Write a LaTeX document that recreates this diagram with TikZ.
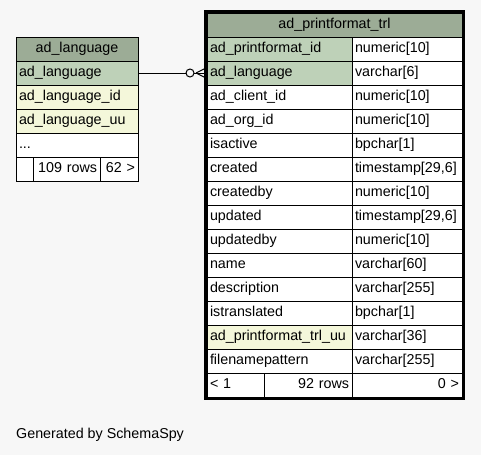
\documentclass[tikz,border=0pt]{standalone}
\usepackage{fontspec}
\setmainfont{Liberation Sans}
\usetikzlibrary{positioning, calc}
\definecolor{pagebg}{HTML}{F7F7F7}
\definecolor{hdrfill}{HTML}{9CAC96}
\definecolor{keyfill}{HTML}{BED1B8}
\definecolor{uufill}{HTML}{F4F7DA}
\tikzset{
  cell/.style={
    draw=black, line width=1pt, anchor=north west, outer sep=0pt,
    minimum height=24pt, inner xsep=3pt, inner ysep=0pt,
    text height=10.5pt, text depth=3.5pt, align=left,
    font=\fontsize{14.3}{16}\selectfont
  },
  tblhead/.style={cell, fill=hdrfill, align=center},
  lcol/.style={cell, text width=116pt},
  namecol/.style={cell, text width=139pt},
  typecol/.style={cell, text width=104pt, fill=white},
  foot/.style={cell, fill=white, text width=#1},
  rel/.style={draw=black, line width=1pt},
  optcircle/.style={circle, draw=black, line width=1pt, fill=pagebg,
                    minimum size=8pt, inner sep=0pt},
}

\begin{document}
\begin{tikzpicture}[x=1pt, y=-1pt]

  % ============ PAGE ============
  \fill[pagebg] (0,0) rectangle (481,455);
  \useasboundingbox (0,0) rectangle (481,455);

  % ============ TABLE ad_language ============
  \node[tblhead, text width=116pt] (lh) at (16,37) {ad\_language};
  \foreach \n/\f [count=\i] in {ad\_language/keyfill, ad\_language\_id/uufill,
                                ad\_language\_uu/uufill} {
    \node[lcol, fill=\f] (l\i) at (16,{37+24*\i}) {\n};
  }
  \node[lcol, fill=white] (l4) at (16,133) {...};
  % footer
  \node[foot=11pt] (lf1) at (16,157) {};
  \node[foot=61pt, align=right] (lf2) at (33,157) {109 rows};
  \node[foot=32pt, align=right] (lf3) at (100,157) {62 >};

  % ============ TABLE ad_printformat_trl ============
  \node[tblhead, text width=249pt] (rh) at (207,13) {ad\_printformat\_trl};
  \foreach \n/\t/\f [count=\i] in {
      ad\_printformat\_id/numeric[10]/keyfill,
      ad\_language/varchar[6]/keyfill,
      ad\_client\_id/numeric[10]/white,
      ad\_org\_id/numeric[10]/white,
      isactive/bpchar[1]/white,
      created/{timestamp[29,6]}/white,
      createdby/numeric[10]/white,
      updated/{timestamp[29,6]}/white,
      updatedby/numeric[10]/white,
      name/varchar[60]/white,
      description/varchar[255]/white,
      istranslated/bpchar[1]/white,
      ad\_printformat\_trl\_uu/varchar[36]/uufill,
      filenamepattern/varchar[255]/white} {
    \node[namecol, fill=\f] (n\i) at (207,{13+24*\i}) {\n};
    \node[typecol] (t\i) at (352,{13+24*\i}) {\t};
  }
  % footer
  \node[foot=51pt] (rf1) at (207,373) {< 1};
  \node[foot=82pt, align=right] (rf2) at (264,373) {92 rows};
  \node[foot=104pt, align=right] (rf3) at (352,373) {0 >};

  % thick outline
  \draw[line width=3pt] ($(rh.north west)+(-1.5,-1.5)$)
    rectangle ($(rf3.south east)+(1.5,1.5)$);

  % ============ RELATION (zero or many) ============
  \draw[rel] (l1.east) -- (n2.west);
  \node[optcircle] (opt) at ($(n2.west)+(-17,0)$) {};
  \coordinate (apex) at ($(n2.west)+(-11,0)$);
  \draw[rel] (apex) -- ($(n2.west)+(-2,-4.5)$);
  \draw[rel] (apex) -- ($(n2.west)+(-2,4.5)$);

  % ============ CAPTION ============
  \node[anchor=west, inner sep=0pt, font=\fontsize{14.3}{16}\selectfont]
    (gen) at (16,435) {Generated by SchemaSpy};

\end{tikzpicture}
\end{document}
